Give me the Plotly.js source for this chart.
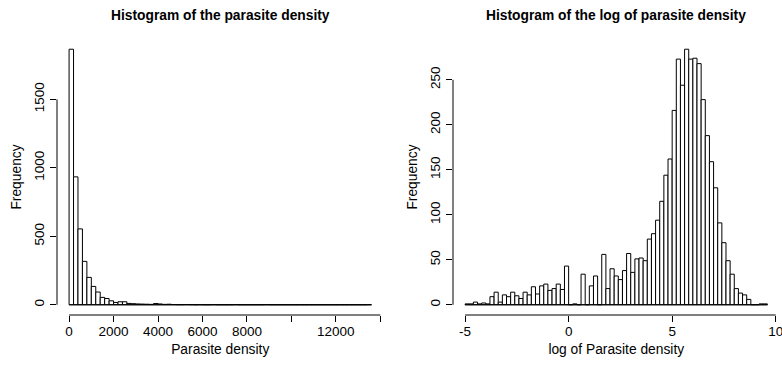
<!DOCTYPE html>
<html>
<head>
<meta charset="utf-8">
<script src="https://cdn.plot.ly/plotly-3.0.1.min.js"></script>
<style>html,body{margin:0;padding:0;background:#fff;}#chart{width:782px;height:365px;}</style>
</head>
<body>
<div id="chart"></div>
<script>
// ---- Data: left histogram (parasite density), bins of 200 starting at 0
const densityBinStart = 0;
const densityBinWidth = 200;
const densityCounts = [
  1866, 934, 554, 317, 200, 134, 93, 54, 46, 29,
  17, 22, 22, 10, 8, 6, 5, 4, 3, 9,
  6, 3, 4, 2, 1, 1, 2, 1, 0, 1,
  0, 0, 1, 0, 0, 0, 0, 1, 0, 0,
  0, 0, 0, 0, 1, 0, 0, 0, 0, 0,
  0, 0, 0, 0, 0, 0, 0, 0, 0, 0,
  0, 0, 0, 0, 0, 0, 0, 1
];
const densityXTicks = [0, 2000, 4000, 6000, 8000, 10000, 12000, 14000];
const densityXTickText = ['0', '2000', '4000', '6000', '8000', '', '12000', ''];
const densityYTicks = [0, 500, 1000, 1500];

// ---- Data: right histogram (log of parasite density), bins of 0.2 starting at -5
const logBinStart = -5;
const logBinWidth = 0.2;
const logCounts = [
  1, 1, 3, 1, 2, 1, 9, 14, 3, 11,
  9, 14, 10, 7, 14, 11, 20, 12, 21, 23,
  16, 18, 23, 17, 43, 0, 1, 0, 34, 0,
  21, 32, 0, 56, 18, 40, 32, 28, 38, 57,
  36, 51, 52, 49, 73, 79, 94, 115, 144, 162,
  216, 273, 244, 284, 273, 274, 268, 228, 188, 159,
  130, 91, 69, 49, 34, 18, 13, 11, 6, 0,
  0, 1, 1
];
const logXTicks = [-5, 0, 5, 10];
const logYTicks = [0, 50, 100, 150, 200, 250];

const titles = ['Histogram of the parasite density', 'Histogram of the log of parasite density'];
const xTitles = ['Parasite density', 'log of Parasite density'];
const yTitle = 'Frequency';

function centers(start, w, n) { const c = []; for (let i = 0; i < n; i++) c.push(start + w * (i + 0.5)); return c; }
function padRange(lo, hi) { const p = 0.04 * (hi - lo); return [lo - p, hi + p]; }

const W = 782, H = 365;
const FONT = 'Liberation Sans, Arial, Helvetica, sans-serif';
const domL = [57 / W, 383.5 / W];
const domR = [453 / W, 779.5 / W];
const domY = [50 / H, 326 / H];
const dEnd = densityBinStart + densityBinWidth * densityCounts.length;
const lEnd = logBinStart + logBinWidth * logCounts.length;
const xr1 = padRange(densityBinStart, dEnd);
const yr1 = padRange(0, Math.max(...densityCounts));
const xr2 = padRange(logBinStart, lEnd);
const yr2 = padRange(0, Math.max(...logCounts));

const barStyle = { color: 'white', line: { color: 'black', width: 1 } };
const traces = [
  { type: 'bar', x: centers(densityBinStart, densityBinWidth, densityCounts.length), y: densityCounts,
    width: densityBinWidth, marker: barStyle, xaxis: 'x', yaxis: 'y' },
  { type: 'scatter', mode: 'lines', x: [densityBinStart, dEnd], y: [0, 0], line: { color: 'black', width: 1 }, xaxis: 'x', yaxis: 'y' },
  { type: 'bar', x: centers(logBinStart, logBinWidth, logCounts.length), y: logCounts,
    width: logBinWidth, marker: barStyle, xaxis: 'x2', yaxis: 'y2' },
  { type: 'scatter', mode: 'lines', x: [logBinStart, lEnd], y: [0, 0], line: { color: 'black', width: 1 }, xaxis: 'x2', yaxis: 'y2' }
];

const tickFont = { family: FONT, size: 13.5, color: 'black' };
const axTitleFont = { family: FONT, size: 13.8, color: 'black' };
function xAxis(dom, range, tv, tt, title, anchor) {
  return { domain: dom, range: range, anchor: anchor, tickmode: 'array', tickvals: tv, ticktext: tt,
    ticks: 'outside', ticklen: 6, tickwidth: 1, tickcolor: 'black', ticklabelstandoff: -2,
    showline: false, showgrid: false, zeroline: false, tickfont: tickFont, automargin: false,
    ticklabeloverflow: 'allow',
    title: { text: title, font: axTitleFont, standoff: 6 } };
}
function yAxis(range, tv, anchor) {
  return { domain: domY, range: range, anchor: anchor, tickmode: 'array', tickvals: tv,
    ticktext: tv.map(String), tickangle: -90,
    ticks: 'outside', ticklen: 6, tickwidth: 1, tickcolor: 'black', ticklabelstandoff: 1,
    showline: false, showgrid: false, zeroline: false, tickfont: tickFont, automargin: false,
    title: { text: yTitle, font: axTitleFont, standoff: 6 } };
}

const axisLine = { color: 'black', width: 1 };
const shapes = [
  { type: 'line', xref: 'x', yref: 'paper', x0: densityXTicks[0], x1: densityXTicks[densityXTicks.length - 1], y0: domY[0], y1: domY[0], line: axisLine },
  { type: 'line', xref: 'paper', yref: 'y', x0: domL[0], x1: domL[0], y0: densityYTicks[0], y1: densityYTicks[densityYTicks.length - 1], line: axisLine },
  { type: 'line', xref: 'x2', yref: 'paper', x0: logXTicks[0], x1: logXTicks[logXTicks.length - 1], y0: domY[0], y1: domY[0], line: axisLine },
  { type: 'line', xref: 'paper', yref: 'y2', x0: domR[0], x1: domR[0], y0: logYTicks[0], y1: logYTicks[logYTicks.length - 1], line: axisLine }
];

const titleFont = { family: FONT, size: 13.8, color: 'black', weight: 'bold' };
const annotations = [
  { text: titles[0], xref: 'paper', yref: 'paper', x: (domL[0] + domL[1]) / 2, y: 1 - 15.5 / H, xanchor: 'center', yanchor: 'middle', showarrow: false, font: titleFont },
  { text: titles[1], xref: 'paper', yref: 'paper', x: (domR[0] + domR[1]) / 2, y: 1 - 15.5 / H, xanchor: 'center', yanchor: 'middle', showarrow: false, font: titleFont }
];

const layout = {
  width: W, height: H, margin: { l: 0, r: 0, t: 0, b: 0 },
  paper_bgcolor: 'white', plot_bgcolor: 'white', showlegend: false, bargap: 0,
  font: { family: FONT, color: 'black' },
  xaxis: xAxis(domL, xr1, densityXTicks, densityXTickText, xTitles[0], 'y'),
  yaxis: yAxis(yr1, densityYTicks, 'x'),
  xaxis2: xAxis(domR, xr2, logXTicks, logXTicks.map(String), xTitles[1], 'y2'),
  yaxis2: yAxis(yr2, logYTicks, 'x2'),
  shapes: shapes, annotations: annotations
};

Plotly.newPlot('chart', traces, layout, { displayModeBar: false, staticPlot: true });
</script>
</body>
</html>
